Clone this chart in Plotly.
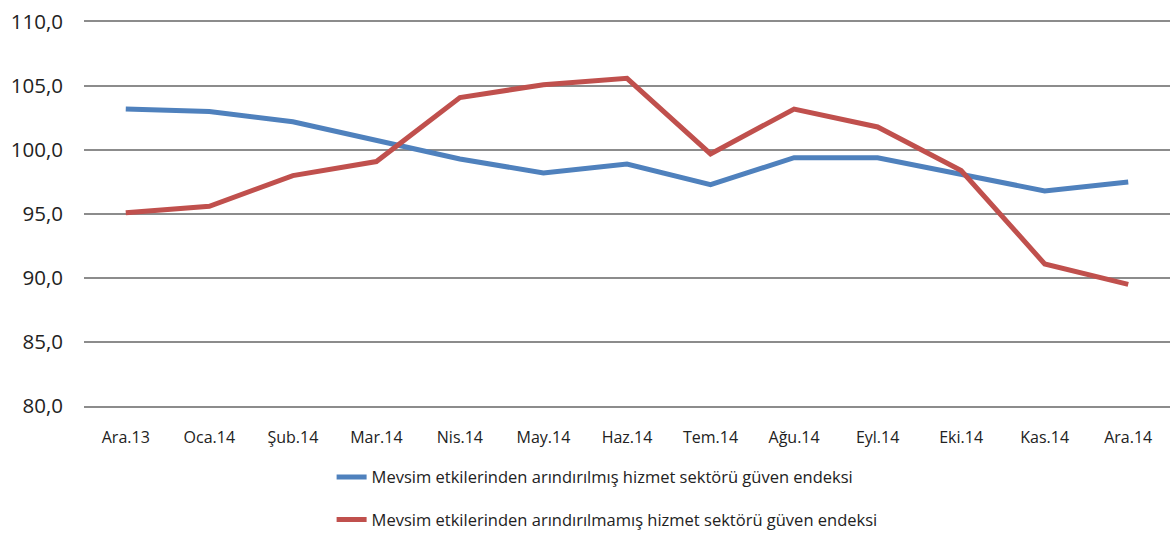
import plotly.graph_objects as go

categories = ["Ara.13", "Oca.14", "Şub.14", "Mar.14", "Nis.14", "May.14", "Haz.14",
              "Tem.14", "Ağu.14", "Eyl.14", "Eki.14", "Kas.14", "Ara.14"]
seasonally_adjusted = [103.2, 103.0, 102.2, 100.8, 99.3, 98.2, 98.9, 97.3, 99.4, 99.4, 98.1, 96.8, 97.5]
not_adjusted = [95.1, 95.6, 98.0, 99.1, 104.1, 105.1, 105.6, 99.7, 103.2, 101.8, 98.4, 91.1, 89.5]

name_adj = "Mevsim etkilerinden arındırılmış hizmet sektörü güven endeksi"
name_raw = "Mevsim etkilerinden arındırılmamış hizmet sektörü güven endeksi"

fig = go.Figure()
fig.add_trace(go.Scatter(x=categories, y=seasonally_adjusted, mode="lines", name=name_adj,
                         legendgroup="a", line=dict(color="#4F81BD", width=5)))
fig.add_trace(go.Scatter(x=categories, y=not_adjusted, mode="lines", name=name_raw,
                         legendgroup="b", line=dict(color="#C0504D", width=5)))

grid_color = "#8C8C8C"
font_family = "Open Sans, Noto Sans, sans-serif"
fig.update_layout(
    width=1170, height=534,
    margin=dict(l=84, r=0, t=22, b=128, autoexpand=False),
    plot_bgcolor="white", paper_bgcolor="white",
    separators=",.",
    font=dict(family=font_family, color="#222222"),
    showlegend=True,
    legend=dict(orientation="v", x=0.228, xanchor="left", y=-0.14, yanchor="top",
                font=dict(size=16.5, color="#222222"), tracegroupgap=18,
                bgcolor="rgba(0,0,0,0)"),
    xaxis=dict(type="category", range=[-0.5, 12.5], showgrid=False,
               showline=True, linecolor=grid_color, linewidth=1.5, mirror=True,
               ticks="", tickfont=dict(size=16), ticklabelstandoff=16, automargin=False),
    yaxis=dict(range=[80, 110], dtick=5, tickformat=".1f", showgrid=True,
               gridcolor=grid_color, gridwidth=1.5, zeroline=False, showline=False,
               ticks="", tickfont=dict(size=20.5), ticklabelstandoff=20, automargin=False),
)

fig.write_html("out.html", config={"displayModeBar": False},
               post_script="document.body.style.margin='0';document.body.style.padding='0';")
